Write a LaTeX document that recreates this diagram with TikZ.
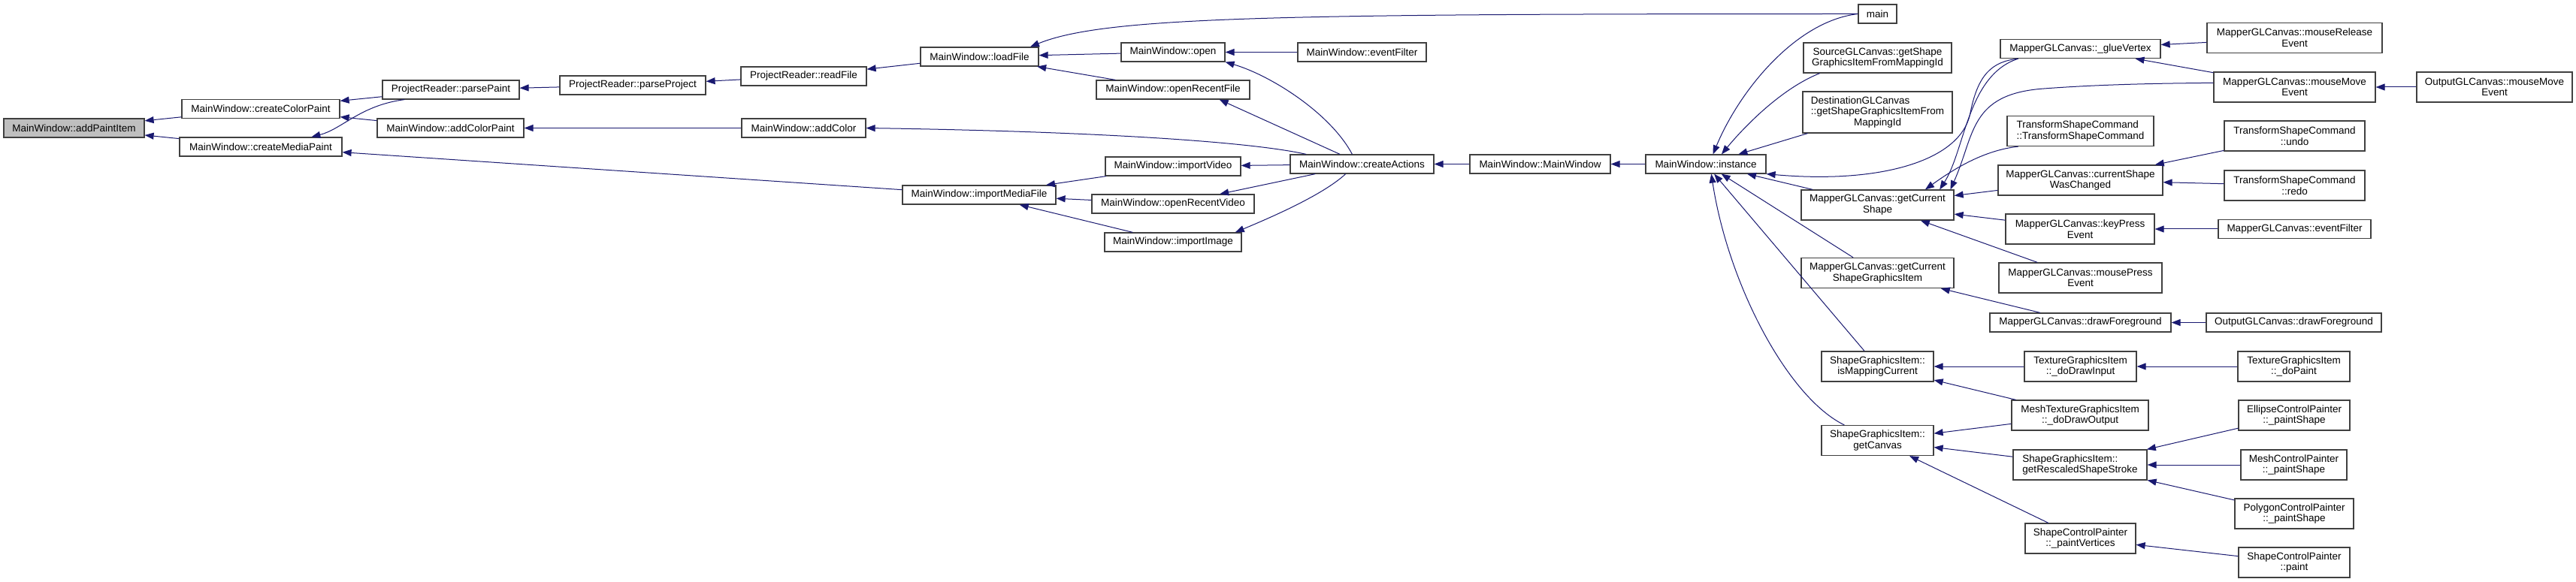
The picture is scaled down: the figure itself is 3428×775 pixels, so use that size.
\documentclass[tikz,border=0pt]{standalone}
\usepackage{fontspec}
\setmainfont{Liberation Sans}
\usetikzlibrary{arrows.meta}
\definecolor{edgeblue}{HTML}{191970}
\definecolor{rootgray}{HTML}{BFBFBF}
\definecolor{boxline}{HTML}{404040}

\begin{document}
\begin{tikzpicture}[x=1pt,y=-1pt,>={Triangle[length=12pt,width=9pt]},
    fn/.style={draw=boxline,line width=1.2pt,fill=white,align=center,inner xsep=2pt,inner ysep=0pt,
        minimum height=25,font=\fontsize{13.5}{14.7}\selectfont},
    fn2/.style={fn,minimum height=40},
    fn3/.style={fn,minimum height=55},
    call/.style={<-,draw=edgeblue,line width=1pt}]

    \useasboundingbox (0,0) rectangle (3428,775);

    \node[fn,fill=rootgray,minimum width=187] (addPaintItem) at (98.5,170.5) {MainWindow::addPaintItem};
    \node[fn,minimum width=210] (createColorPaint) at (347,145) {MainWindow::createColorPaint};
    \node[fn,minimum width=216] (createMediaPaint) at (347,195.5) {MainWindow::createMediaPaint};
    \node[fn,minimum width=182] (parsePaint) at (600,119.5) {ProjectReader::parsePaint};
    \node[fn,minimum width=195] (addColorPaint) at (599.5,170.5) {MainWindow::addColorPaint};
    \node[fn,minimum width=194] (parseProject) at (842,113.5) {ProjectReader::parseProject};
    \node[fn,minimum width=167] (readFile) at (1069.5,101.5) {ProjectReader::readFile};
    \node[fn,minimum width=165] (addColor) at (1069.5,170.5) {MainWindow::addColor};
    \node[fn,minimum width=157] (loadFile) at (1303.5,75.5) {MainWindow::loadFile};
    \node[fn,minimum width=204] (importMediaFile) at (1303,259.5) {MainWindow::importMediaFile};
    \node[fn,minimum width=138] (open) at (1561,69.5) {MainWindow::open};
    \node[fn,minimum width=204] (openRecentFile) at (1561,119.5) {MainWindow::openRecentFile};
    \node[fn,minimum width=180] (importVideo) at (1561,221.5) {MainWindow::importVideo};
    \node[fn,minimum width=216] (openRecentVideo) at (1561,271.5) {MainWindow::openRecentVideo};
    \node[fn,minimum width=182] (importImage) at (1561,322.5) {MainWindow::importImage};
    \node[fn,minimum width=171] (mwEventFilter) at (1812.5,69.5) {MainWindow::eventFilter};
    \node[fn,minimum width=191] (createActions) at (1812.5,218.5) {MainWindow::createActions};
    \node[fn,minimum width=187] (mainWindow) at (2049.5,218.5) {MainWindow::MainWindow};
    \node[fn,minimum width=160] (instance) at (2270,218.5) {MainWindow::instance};
    \node[fn,minimum width=51] (main) at (2498.5,18.5) {main};
    \node[fn2,minimum width=197] (srcShape) at (2498.5,77) {SourceGLCanvas::getShape\\GraphicsItemFromMappingId};
    \node[fn3,minimum width=199] (dstShape) at (2498.5,149.5) {\rlap{DestinationGLCanvas}\phantom{::getShapeGraphicsItemFrom}\\::getShapeGraphicsItemFrom\\MappingId};
    \node[fn2,minimum width=203] (curShape) at (2498.5,273) {MapperGLCanvas::getCurrent\\Shape};
    \node[fn2,minimum width=203] (curShapeItem) at (2498.5,363.5) {MapperGLCanvas::getCurrent\\ShapeGraphicsItem};
    \node[fn2,minimum width=149] (isMapping) at (2498.5,488) {ShapeGraphicsItem::\\isMappingCurrent};
    \node[fn2,minimum width=149] (getCanvas) at (2498.5,586.5) {ShapeGraphicsItem::\\getCanvas};
    \node[fn,minimum width=213] (glueVertex) at (2768.5,65) {MapperGLCanvas::\_glueVertex};
    \node[fn2,minimum width=195] (tscCtor) at (2768.5,174.5) {\rlap{TransformShapeCommand}\phantom{::TransformShapeCommand}\\::TransformShapeCommand};
    \node[fn2,minimum width=219] (shapeChanged) at (2768.5,240) {MapperGLCanvas::currentShape\\WasChanged};
    \node[fn2,minimum width=198] (keyPress) at (2768,305) {MapperGLCanvas::keyPress\\Event};
    \node[fn2,minimum width=217] (mousePress) at (2768.5,370) {MapperGLCanvas::mousePress\\Event};
    \node[fn,minimum width=241] (mapperFg) at (2768.5,429.5) {MapperGLCanvas::drawForeground};
    \node[fn2,minimum width=149] (drawInput) at (2768.5,488) {TextureGraphicsItem\\::\_doDrawInput};
    \node[fn2,minimum width=182] (drawOutput) at (2768,553) {MeshTextureGraphicsItem\\::\_doDrawOutput};
    \node[fn2,minimum width=178] (rescaled) at (2768,619) {\rlap{ShapeGraphicsItem::}\phantom{getRescaledShapeStroke}\\getRescaledShapeStroke};
    \node[fn2,minimum width=147] (paintVertices) at (2768.5,717) {ShapeControlPainter\\::\_paintVertices};
    \node[fn2,minimum width=233] (mouseRelease) at (3053.5,50.5) {MapperGLCanvas::mouseRelease\\Event};
    \node[fn2,minimum width=215] (mouseMove) at (3053.5,116) {MapperGLCanvas::mouseMove\\Event};
    \node[fn2,minimum width=207] (outMouseMove) at (3319.5,116) {OutputGLCanvas::mouseMove\\Event};
    \node[fn2,minimum width=187] (tscUndo) at (3053.5,181) {TransformShapeCommand\\::undo};
    \node[fn2,minimum width=187] (tscRedo) at (3053.5,247) {TransformShapeCommand\\::redo};
    \node[fn,minimum width=203] (mapperFilter) at (3053.5,305) {MapperGLCanvas::eventFilter};
    \node[fn,minimum width=233] (outputFg) at (3052.5,429.5) {OutputGLCanvas::drawForeground};
    \node[fn2,minimum width=149] (doPaint) at (3052.5,488) {TextureGraphicsItem\\::\_doPaint};
    \node[fn2,minimum width=148] (ellipse) at (3053,553) {EllipseControlPainter\\::\_paintShape};
    \node[fn2,minimum width=141] (meshPainter) at (3052.5,619) {MeshControlPainter\\::\_paintShape};
    \node[fn2,minimum width=158] (polygon) at (3053,684) {PolygonControlPainter\\::\_paintShape};
    \node[fn2,minimum width=148] (scpPaint) at (3053,749) {ShapeControlPainter\\::paint};

    \draw[call] (addPaintItem) -- (createColorPaint);
    \draw[call] (addPaintItem) -- (createMediaPaint);
    \draw[call] (createColorPaint) -- (parsePaint);
    \draw[call] (createColorPaint) -- (addColorPaint);
    \draw[call] (createMediaPaint.11) .. controls (455,172) and (480,140) .. (parsePaint.192);
    \draw[call] (createMediaPaint) -- (importMediaFile);
    \draw[call] (parsePaint) -- (parseProject);
    \draw[call] (parseProject) -- (readFile);
    \draw[call] (readFile) -- (loadFile);
    \draw[call] (addColorPaint) -- (addColor);
    \draw[call] (loadFile.11) .. controls (1470,22) and (1700,18.5) .. (main.west);
    \draw[call] (loadFile) -- (open);
    \draw[call] (loadFile) -- (openRecentFile);
    \draw[call] (addColor.east) .. controls (1450,175) and (1660,188) .. (createActions.170);
    \draw[call] (importMediaFile) -- (importVideo);
    \draw[call] (importMediaFile) -- (openRecentVideo);
    \draw[call] (importMediaFile) -- (importImage);
    \draw[call] (open) -- (mwEventFilter);
    \draw[call] (open.south east) .. controls (1690,100) and (1770,150) .. (createActions.135);
    \draw[call] (openRecentFile.-12) -- (createActions.156);
    \draw[call] (importVideo) -- (createActions);
    \draw[call] (openRecentVideo) -- (createActions);
    \draw[call] (importImage.9) .. controls (1690,290) and (1760,260) .. (createActions.211);
    \draw[call] (createActions) -- (mainWindow);
    \draw[call] (mainWindow) -- (instance);
    \draw[call] (instance.54) .. controls (2315,120) and (2390,28) .. (main.west);
    \draw[call] (instance.32) .. controls (2320,170) and (2370,118) .. (srcShape.195);
    \draw[call] (instance) -- (dstShape);
    \draw[call] (instance.south east) .. controls (2500,245) and (2610,215) .. (2622,150)
        .. controls (2632,100) and (2650,82) .. (glueVertex.189);
    \draw[call] (instance) -- (curShape);
    \draw[call] (instance) -- (curShapeItem);
    \draw[call] (instance) -- (isMapping);
    \draw[call] (instance.-61) .. controls (2300,380) and (2380,530) .. (getCanvas.155);
    \draw[call] (curShape.14) .. controls (2615,200) and (2618,100) .. (glueVertex.189);
    \draw[call] (curShape.12) .. controls (2628,180) and (2620,125) .. (2720,118)
        .. controls (2800,112) and (2880,111) .. (mouseMove.177);
    \draw[call] (curShape.18) .. controls (2600,225) and (2640,200) .. (tscCtor.194);
    \draw[call] (curShape) -- (shapeChanged);
    \draw[call] (curShape) -- (keyPress);
    \draw[call] (curShape) -- (mousePress);
    \draw[call] (glueVertex) -- (mouseRelease);
    \draw[call] (glueVertex) -- (mouseMove);
    \draw[call] (mouseMove) -- (outMouseMove);
    \draw[call] (shapeChanged) -- (tscUndo);
    \draw[call] (shapeChanged) -- (tscRedo);
    \draw[call] (keyPress) -- (mapperFilter);
    \draw[call] (curShapeItem) -- (mapperFg);
    \draw[call] (mapperFg) -- (outputFg);
    \draw[call] (isMapping) -- (drawInput);
    \draw[call] (isMapping) -- (drawOutput);
    \draw[call] (drawInput) -- (doPaint);
    \draw[call] (getCanvas) -- (drawOutput);
    \draw[call] (getCanvas) -- (rescaled);
    \draw[call] (getCanvas) -- (paintVertices);
    \draw[call] (rescaled) -- (ellipse);
    \draw[call] (rescaled) -- (meshPainter);
    \draw[call] (rescaled) -- (polygon);
    \draw[call] (paintVertices) -- (scpPaint);

\end{tikzpicture}
\end{document}
